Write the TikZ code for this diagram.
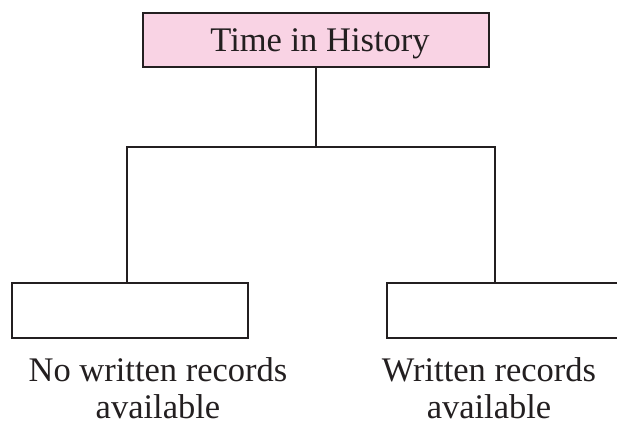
\documentclass[tikz,border=0pt]{standalone}
\usepackage{fontspec}
\setmainfont{Liberation Serif}
\definecolor{ink}{HTML}{231F20}
\definecolor{pinkfill}{HTML}{F9D3E4}
\begin{document}
\begin{tikzpicture}[x=1pt,y=1pt,
  line width=2.5pt, draw=ink,
  boxstyle/.style={draw=ink, line width=2.5pt, inner sep=0pt, minimum height=55pt},
  labelstyle/.style={anchor=base, align=center, inner sep=0pt, text depth=0pt, text=ink, font=\fontsize{34.5}{37}\selectfont}]
\useasboundingbox (0,0) rectangle (617,427);
\clip (0,0) rectangle (617,427);
\node[boxstyle, fill=pinkfill, minimum width=346pt, minimum height=54pt, text depth=0pt,
      text=ink, font=\fontsize{34.5}{38}\selectfont] (top) at (316,387) {\hspace*{8pt}Time in History};
\coordinate (junc) at (316,280);
\coordinate (lc) at (127,280);
\coordinate (rc) at (495,280);
\node[boxstyle, minimum width=236pt] (lbox) at (130,116.5) {};
\node[boxstyle, minimum width=235pt] (rbox) at (504.5,116.5) {};
\node[labelstyle] (ltext) at (158,8.5) {No written records\\available};
\node[labelstyle] (rtext) at (489,8.5) {Written records\\available};
\draw[ink] (top.south) -- (junc);
\draw[ink, line cap=rect] (lc) -- (rc);
\draw[ink] (lc) -- (lc |- lbox.north);
\draw[ink] (rc) -- (rc |- rbox.north);
\end{tikzpicture}
\end{document}
